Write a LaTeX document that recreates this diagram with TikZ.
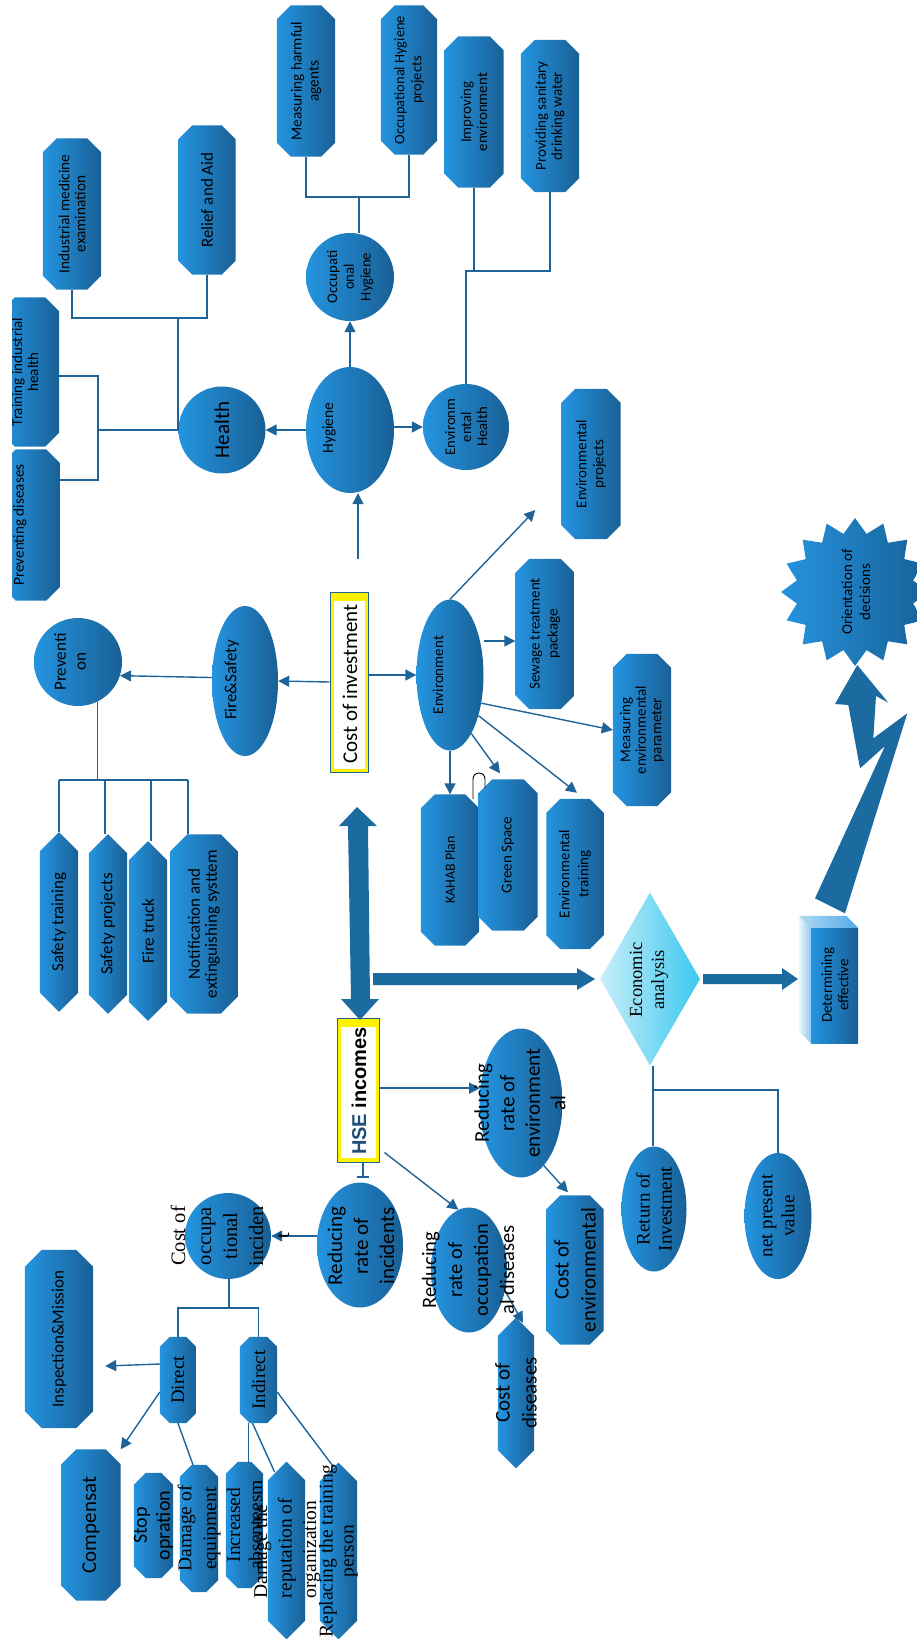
\documentclass[tikz,border=0pt]{standalone}
\usepackage{fontspec}
\setmainfont{Carlito}
\newfontfamily\tms{Liberation Serif}
\newfontfamily\arl{Liberation Sans}
\usetikzlibrary{shapes.geometric,shapes.misc,arrows.meta,calc}
\definecolor{lb}{RGB}{36,148,224}
\definecolor{db}{RGB}{25,96,150}
\definecolor{lnc}{RGB}{30,100,152}
\definecolor{bigc}{RGB}{27,106,160}
\definecolor{hseblue}{RGB}{31,78,121}
\definecolor{econl}{RGB}{200,238,250}
\definecolor{econr}{RGB}{60,200,238}
\newcommand\fsz[2]{\fontsize{#1}{#2}\selectfont}
\newcommand\cbox[6]{%
  \node[boxn, minimum width=#4, minimum height=#5] (#1) at (#2,#3) {};
  \shade[left color=lb, right color=db]
    ([xshift=#6pt]#1.north west) -- ([xshift=-#6pt]#1.north east) --
    ([yshift=-#6pt]#1.north east) -- ([yshift=#6pt]#1.south east) --
    ([xshift=-#6pt]#1.south east) -- ([xshift=#6pt]#1.south west) --
    ([yshift=#6pt]#1.south west) -- ([yshift=-#6pt]#1.north west) -- cycle;
}
\begin{document}
\begin{tikzpicture}[x=1pt,y=-1pt,
  conn/.style={draw=lnc, line width=1.4pt},
  conna/.style={conn, -{Triangle[length=11pt,width=11pt]}},
  tbar/.style={conn, -{Bar[width=12pt]}},
  boxn/.style={rectangle, inner sep=0pt, draw=none},
  grad/.style={left color=lb, right color=db},
  ell/.style={ellipse, inner sep=0pt, grad},
  circ/.style={circle, inner sep=0pt, grad},
  txt/.style={rotate=90, align=center, inner sep=0pt, text=black}]
\fill[white] (0,0) rectangle (916,1639);
\useasboundingbox (0,0) rectangle (916,1639);

% ---------- shapes ----------
\cbox{mha}{306}{81}{58}{151}{14}
\cbox{ohp}{409}{80}{56}{149}{14}
\cbox{ime}{72}{214}{58}{151}{14}
\cbox{raid}{207}{200}{57}{149}{14}
\begin{scope}
\clip (12,0) rectangle (916,1639);
\cbox{tih}{30}{372}{58}{149}{14}
\cbox{prevd}{31}{525}{58}{151}{14}
\end{scope}
\node[circ, minimum size=88] (ohyg) at (350,277) {};
\node[ell, minimum width=88, minimum height=126] (hyg) at (350,430) {};
\node[circ, minimum size=87] (health) at (222,430) {};
\node[circ, minimum size=86] (envh) at (466,427) {};
\cbox{impenv}{474}{112}{59}{151}{14}
\cbox{psdw}{550}{116}{58}{152}{14}
\cbox{envproj}{591}{464}{59}{150}{14}
\cbox{sewage}{545}{634}{59}{150}{14}
\cbox{mep}{642}{730}{58}{152}{14}
\node[ell, minimum width=67, minimum height=151] (env) at (450,675) {};
\node[ell, minimum width=66, minimum height=150] (fs) at (245,681) {};
\node[circ, minimum size=88] (prev) at (78,662) {};
\node[boxn, draw=lnc, line width=1pt, fill=yellow, minimum width=38, minimum height=180] (costinv) at (349,682) {};
\fill[white] ($(costinv.north west)+(4,9)$) rectangle ($(costinv.south east)+(-4,-4)$);
\cbox{safetr}{59}{922}{38}{179}{19}
\cbox{safepj}{108}{924}{38}{179}{19}
\cbox{firetr}{148}{931}{38}{179}{19}
\cbox{notif}{204}{924}{67}{179}{17}
\cbox{kahab}{450}{870}{58}{151}{14}
\cbox{green}{508}{855}{59}{151}{14}
\cbox{envtr}{575}{874}{57}{150}{14}
\node[star, star points=16, star point ratio=1.25, minimum size=148, inner sep=0pt, grad] (orient) at (855,592) {};
\node[diamond, minimum width=100, minimum height=173, inner sep=0pt, left color=econl, right color=econr] (econ) at (650,979) {};
\node[boxn, minimum width=47, minimum height=115, grad] (det) at (834.5,985.5) {};
\shade[left color=lb!35!white, right color=lb!80!white] (det.north west) -- ++(-12,-12) -- ($(det.north east)+(-12,-12)$) -- (det.north east) -- cycle;
\shade[left color=lb!8!white, right color=lb!50!white] (det.north west) -- ++(-12,-12) -- ($(det.south west)+(-12,-12)$) -- (det.south west) -- cycle;
\node[boxn, draw=lnc, line width=1pt, fill=yellow, minimum width=42, minimum height=144] (hse) at (358,1090) {};
\fill[white] ($(hse.north west)+(4,9)$) rectangle ($(hse.south east)+(-4,-5)$);
\node[ell, minimum width=83, minimum height=149] (redenv) at (521,1103) {};
\cbox{costenv}{575}{1270}{57}{149}{14}
\node[ell, minimum width=76, minimum height=125] (redocc) at (469,1270) {};
\cbox{costdis}{516}{1393}{36}{150}{18}
\node[ell, minimum width=86, minimum height=125] (redinc) at (360,1245) {};
\node[circ, minimum size=86] (costocc) at (228,1236) {};
\cbox{direct}{178}{1380}{36}{86}{10}
\cbox{indirect}{258.5}{1380}{37}{86}{10}
\cbox{insp}{59}{1339}{68}{178}{17}
\cbox{comp}{91}{1525}{59}{151}{15}
\cbox{stop}{153.5}{1525.5}{39}{105}{12}
\cbox{damage}{199}{1528.5}{38}{127}{12}
\cbox{incr}{244.5}{1525}{37}{126}{12}
\cbox{reput}{286.5}{1550.5}{37}{177}{18.5}
\cbox{repl}{338.5}{1551}{37}{176}{18.5}
\node[ell, minimum width=65, minimum height=125] (retinv) at (654,1209) {};
\node[ell, minimum width=67, minimum height=126] (npv) at (778,1216) {};

% ---------- big arrows and bolt ----------
\fill[bigc] (357,807) -- (377,826) -- (368,826) -- (370,999) -- (379,999) -- (360,1020) -- (341,999) -- (351,999) -- (348,826) -- (339,826) -- cycle;
\fill[bigc] (373,973) -- (577,973) -- (577,968) -- (595,979) -- (577,990) -- (577,985) -- (373,985) -- cycle;
\fill[bigc] (703,974) -- (782,974) -- (782,968) -- (798,979) -- (782,990) -- (782,984) -- (703,984) -- cycle;
\fill[bigc] (857.3,665) -- (888.3,702.7) -- (876,696) -- (873.3,738.3) -- (907.3,713.3) -- (845,913.3) -- (815,898.3) -- (885,746) -- (860,768.3) -- (848.3,705) -- (835,704) -- cycle;

% ---------- connectors ----------
\coordinate (ohb) at (359,197);
\draw[conn] (mha.south) |- (ohb) -| (ohp.south);
\draw[conn] (ohb) -- (ohb |- ohyg.north);
\draw[conna] (hyg.north) -- (ohyg.south);
\coordinate (hb) at (178,318);
\draw[conn] (ime.south) |- (hb) -| (raid.south);
\draw[conn] (hb) |- (health.west);
\coordinate (hc) at (97,430);
\draw[conn] (hc) -- (health.west);
\coordinate (ht) at (98,376);
\coordinate (hbm) at (98,480);
\draw[conn] (tih.east |- ht) -- (ht) -- (hbm) -- (prevd.east |- hbm);
\draw[conna] (hyg.west) -- (health.east);
\draw[conna] (hyg.east |- envh.west) -- (envh.west);
\coordinate (eb) at (466,271);
\draw[conn] (envh.north) -- (eb) -- (eb -| psdw.south) -- (psdw.south);
\draw[conn] (impenv.south) -- (impenv.south |- eb);
\coordinate (ci) at (358,559);
\draw[conna] (ci) -- (ci |- hyg.south);
\draw[conna] (costinv.west) -- (fs.east);
\draw[conna] (fs.174) -- (prev.-18);
\draw[conna] (costinv.east |- env.west) -- (env.west);
\coordinate (pb) at (97,780);
\draw[conn] (prev.-64) -- (prev.-64 |- pb);
\coordinate (p1) at (59,780);
\coordinate (p2) at (105,780);
\coordinate (p3) at (151,780);
\coordinate (p4) at (188,780);
\draw[conn] (p1) -- (p4);
\draw[conn] (p1) -- (p1 |- safetr.north);
\draw[conn] (p2) -- (p2 |- safepj.north);
\draw[conn] (p3) -- (p3 |- firetr.north);
\draw[conn] (p4) -- (p4 |- notif.north);
\draw[conna] (env.south) -- (kahab.north);
\draw[conna] (env.-70) -- ($(green.north)+(-8,-6)$);
\draw[conna] (env.-55) -- ($(envtr.north)+(2,-6)$);
\draw[conna] (env.-42) -- (mep.west);
\coordinate (sw) at ([yshift=-7pt]sewage.west);
\draw[conna] (sw -| env.east) -- (sw);
\draw[conna] (env.north) -- ($(envproj.west)+(-26,46)$);
\draw[black, line width=0.9pt] (473,799) -- (473,779) arc[start angle=180, end angle=360, radius=6] -- (485,788);
\draw[conna] (hse.east |- redenv.160) -- (redenv.160);
\draw[conna] ($(hse.south east)+(5,-10)$) -- (redocc.100);
\draw[tbar] ([xshift=5pt]hse.south) -- ++(0,15);
\draw[conna] (redinc.west |- costocc.east) -- (costocc.east);
\draw[conna] (redenv.-70) -- ($(costenv.north)+(-7,-3)$);
\draw[conna] (redocc.-30) -- ($(costdis.north)+(7,5)$);
\coordinate (cb) at (229,1308);
\draw[conn] (cb |- costocc.south) -- (cb);
\draw[conn] (direct.north) |- (cb) -| (indirect.north);
\draw[conna] ([yshift=16pt]direct.west) -- ($(insp.east)+(12,27)$);
\draw[conna] ([yshift=-12pt]direct.west) -- (comp.north east);
\draw[conn] (direct.south) -- ($(damage.north)+(-6,0)$);
\draw[conn] ([xshift=-10pt]indirect.south) -- ([xshift=-10pt]indirect.south |- incr.north);
\draw[conn] ([xshift=-6pt]indirect.south) -- ($(reput.north)+(-12,10)$);
\draw[conn] ([yshift=-12pt]indirect.east) -- ($(repl.north)+(-5,4)$);
\coordinate (ej) at (653,1090);
\draw[conn] (ej |- econ.south) -- (ej |- retinv.north);
\draw[conn] (ej) -| (npv.north);

% ---------- texts ----------
\node[txt, font=\fsz{15.3}{17}] (mha-t) at (mha) {Measuring harmful\\agents};
\node[txt, font=\fsz{14.5}{17}] (ohp-t) at (ohp) {Occupational Hygiene\\projects};
\node[txt, font=\fsz{15.3}{16}] (ime-t) at (ime) {Industrial medicine\\examination};
\node[txt, font=\fsz{17}{19}] (raid-t) at (raid) {Relief and Aid};
\begin{scope}
\clip (12,0) rectangle (916,1639);
\node[txt, font=\fsz{15}{16}] (tih-t) at (25,372) {Training industrial\\health};
\node[txt, font=\fsz{15.2}{16}] (prevd-t) at (20,525) {Preventing diseases};
\end{scope}
\node[txt, font=\fsz{14.7}{16.7}] (ohyg-t) at (ohyg) {Occupati\\onal\\Hygiene};
\node[txt, font=\fsz{15.5}{18}] (hyg-t) at (329,428) {Hygiene};
\node[txt, font=\fsz{21}{24}] (health-t) at (health) {Health};
\node[txt, font=\fsz{14.7}{16}] (envh-t) at (envh) {Environm\\ental\\Health};
\node[txt, font=\fsz{15}{16}] (impenv-t) at (impenv) {Improving\\environment};
\node[txt, font=\fsz{15}{16}] (psdw-t) at (psdw) {Providing sanitary\\drinking water};
\node[txt, font=\fsz{15}{17}] (envproj-t) at (envproj) {Environmental\\projects};
\node[txt, font=\fsz{15}{18}] (sewage-t) at (sewage) {Sewage treatment\\package};
\node[txt, font=\fsz{15}{15.5}] (mep-t) at (mep) {Measuring\\environmental\\parameter};
\node[txt, font=\fsz{15}{18}] (env-t) at (438,675) {Environment};
\node[txt, font=\fsz{17}{19}] (fs-t) at (232,680) {Fire\&Safety};
\node[txt, font=\fsz{17}{20}] (prev-t) at (70,662) {Preventi\\on};
\node[txt, font=\fsz{21}{24}] (costinv-t) at (350,684) {Cost of investment};
\node[txt, font=\fsz{17}{19}] (safetr-t) at (safetr) {Safety training};
\node[txt, font=\fsz{17}{19}] (safepj-t) at (safepj) {Safety projects};
\node[txt, font=\fsz{17}{19}] (firetr-t) at (firetr) {Fire truck};
\node[txt, font=\fsz{17}{17}] (notif-t) at (notif) {Notification and\\extinguishing systtem};
\node[txt, font=\fsz{14}{17}] (kahab-t) at (kahab) {KAHAB Plan};
\node[txt, font=\fsz{15}{17}] (green-t) at (green) {Green Space};
\node[txt, font=\fsz{15}{19}] (envtr-t) at (envtr) {Environmental\\training};
\node[txt, font=\fsz{15}{18}] (orient-t) at (856,592) {Orientation of\\decisions};
\node[txt, font=\tms\fsz{18.5}{22}] (econ-t) at (649,980) {Economic\\analysis};
\node[txt, font=\fsz{15}{16.5}] (det-t) at (835,985) {Determining\\effective};
\node[txt, font=\arl\bfseries\fsz{20}{24}] (hse-t) at (359,1091) {\textcolor{hseblue}{HSE} incomes};
\node[txt, font=\fsz{21}{25.5}] (redenv-t) at (520,1103) {Reducing\\rate of\\environment\\al};
\node[txt, font=\fsz{21}{27}] (costenv-t) at (costenv) {Cost of\\environmental};
\node[txt, font=\fsz{20.5}{26}] (redocc-t) at (468,1270) {Reducing\\rate of\\occupation\\al diseases};
\node[txt, font=\fsz{21}{27}] (costdis-t) at (costdis) {Cost of\\diseases};
\node[txt, font=\fsz{21}{26}] (redinc-t) at (361,1246) {Reducing\\rate of\\incidents};
\node[txt, font=\tms\fsz{20.5}{26}] (costocc-t) at (230,1236) {Cost of\\occupa\\tional\\inciden\\t};
\node[txt, font=\tms\fsz{19}{22}] (direct-t) at (direct) {Direct};
\node[txt, font=\tms\fsz{19}{22}] (indirect-t) at (indirect) {Indirect};
\node[txt, font=\fsz{17}{19}] (insp-t) at (insp) {Inspection\&Mission};
\node[txt, font=\fsz{21}{24}] (comp-t) at (comp) {Compensat};
\node[txt, font=\fsz{20}{23}] (stop-t) at (stop) {Stop\\opration};
\node[txt, font=\tms\fsz{19.5}{25}] (damage-t) at (damage) {Damage of\\equipment};
\node[txt, font=\tms\fsz{19.5}{22}] (incr-t) at (incr) {Increased\\absenteesm};
\node[txt, align=left, font=\tms\fsz{19.5}{24.5}] (reput-t) at (287,1548) {Damage the\\reputation of\\organization};
\node[txt, font=\tms\fsz{19.5}{21}] (repl-t) at (repl) {Replacing the training\\person};
\node[txt, font=\tms\fsz{19}{22}] (retinv-t) at (retinv) {Return of\\Investment};
\node[txt, font=\tms\fsz{19}{22}] (npv-t) at (npv) {net present\\value};
\end{tikzpicture}
\end{document}
